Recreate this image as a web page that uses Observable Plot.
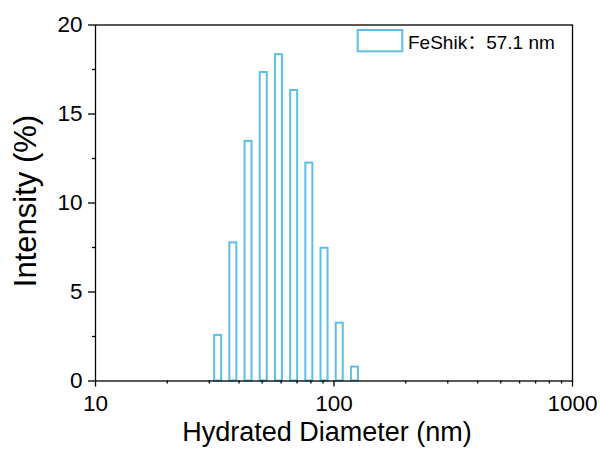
<!DOCTYPE html>
<html>
<head>
<meta charset="utf-8">
<script src="https://cdn.jsdelivr.net/npm/d3@7"></script>
<script src="https://cdn.jsdelivr.net/npm/@observablehq/plot@0.6"></script>
<style>
  html, body { margin: 0; padding: 0; background: #fff; }
  svg { display: block; }
</style>
</head>
<body>
<div id="chart"></div>
<script>
// Data
const sizes = [32.67, 37.84, 43.82, 50.75, 58.77, 68.06, 78.82, 91.28, 105.7, 122.4];
const intensity = [2.56, 7.76, 13.46, 17.33, 18.33, 16.32, 12.24, 7.46, 3.25, 0.78];
const xTicks = [10, 100, 1000];
const xMinorTicks = [20, 30, 40, 50, 60, 70, 80, 90, 200, 300, 400, 500, 600, 700, 800, 900];
const yTicks = [0, 5, 10, 15, 20];
const yMinorTicks = [2.5, 7.5, 12.5, 17.5];
const xTitle = "Hydrated Diameter (nm)";
const yTitle = "Intensity (%)";
const legendLabel = "FeShik\uFF1A57.1 nm";

const barColor = "#5cbfe8";
const font = "'Liberation Sans', Arial, 'Noto Sans CJK SC', sans-serif";
const halfBin = 1.0344; // multiplicative half-width of each bar on the log axis

const data = sizes.map((s, i) => ({size: s, value: intensity[i]}));

const svg = Plot.plot({
  width: 601,
  height: 450,
  marginLeft: 95,
  marginRight: 29,
  marginTop: 24.5,
  marginBottom: 69.5,
  style: {fontFamily: font, color: "#000", background: "#fff"},
  x: {type: "log", domain: [10, 1000]},
  y: {domain: [0, 20]},
  marks: [
    Plot.rect(data, {
      x1: d => d.size / halfBin,
      x2: d => d.size * halfBin,
      y1: 0,
      y2: "value",
      fill: "none",
      stroke: barColor,
      strokeWidth: 2
    }),
    Plot.frame({stroke: "#000", strokeWidth: 1.3}),
    Plot.axisX({ticks: xTicks, tickFormat: d => String(d), tickSize: 6, tickPadding: 8, fontSize: 22.5, label: null, strokeWidth: 1.3}),
    Plot.axisX({ticks: xMinorTicks, tickSize: 3, text: null, label: null, strokeWidth: 1.3}),
    Plot.axisY({ticks: yTicks, tickFormat: d => String(d), tickSize: 7, tickPadding: 6, fontSize: 22.5, label: null, strokeWidth: 1.3}),
    Plot.axisY({ticks: yMinorTicks, tickSize: 3, text: null, label: null, strokeWidth: 1.3}),
    Plot.text([xTitle], {frameAnchor: "bottom", lineAnchor: "bottom", dy: 60, dx: -7, fontSize: 27, fill: "#000"}),
    Plot.text([yTitle], {frameAnchor: "left", textAnchor: "middle", lineAnchor: "middle", rotate: -90, dx: -69, dy: -2, fontSize: 31, fill: "#000"})
  ]
});

// Legend (inside the frame, top right)
const s = d3.select(svg);
s.append("rect")
  .attr("x", 357.7).attr("y", 30).attr("width", 44.6).attr("height", 21.3)
  .attr("fill", "none").attr("stroke", barColor).attr("stroke-width", 2);
s.append("text")
  .attr("x", 408).attr("y", 49)
  .attr("text-anchor", "start")
  .attr("font-size", 19).attr("font-family", font).attr("fill", "#000")
  .text(legendLabel);

document.getElementById("chart").appendChild(svg);
</script>
</body>
</html>
